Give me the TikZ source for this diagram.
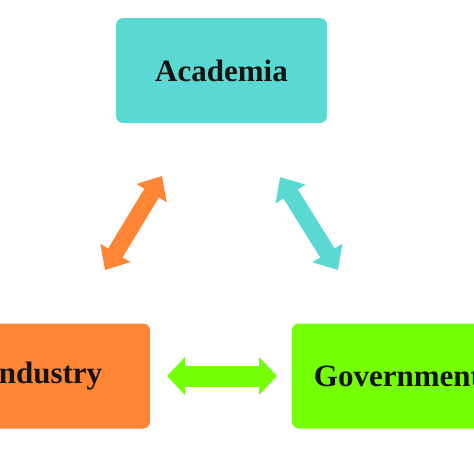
\documentclass[tikz,border=0pt]{standalone}
\usepackage{fontspec}
\setmainfont{Liberation Serif}
\usetikzlibrary{arrows.meta}
\definecolor{teal1}{RGB}{90,217,211}
\definecolor{orange1}{RGB}{253,133,52}
\definecolor{lime1}{RGB}{117,255,4}
\tikzset{
  box/.style={rounded corners=7pt, minimum width=211pt, minimum height=105pt, inner sep=0pt,
    font=\fontsize{31}{36}\selectfont\bfseries, text=black!92},
  barrow/.style={line width=#1, line cap=butt},
}
\begin{document}
\begin{tikzpicture}[x=1pt,y=-1pt]
\clip (0,0) rectangle (474,474);
\fill[white] (0,0) rectangle (474,474);
\node[box, fill=teal1] (acad) at (221.5,70.5) {Academia};
\node[box, fill=orange1] (ind) at (44.5,376) {Industry};
\node[box, fill=lime1] (gov) at (397.5,376) {Government};
\coordinate (o1) at (105,270);
\coordinate (o2) at (162,176);
\coordinate (t1) at (280,177);
\coordinate (t2) at (338,270);
\coordinate (g1) at (167,376);
\coordinate (g2) at (277,376);
\draw[orange1, line width=17pt, {Triangle[length=20pt,width=34pt]}-{Triangle[length=20pt,width=34pt]}] (o1) -- (o2);
\draw[teal1, line width=17pt, {Triangle[length=20pt,width=34pt]}-{Triangle[length=20pt,width=34pt]}] (t1) -- (t2);
\draw[lime1, line width=21pt, {Triangle[length=18pt,width=37pt]}-{Triangle[length=18pt,width=37pt]}] (g1) -- (g2);
\end{tikzpicture}
\end{document}
